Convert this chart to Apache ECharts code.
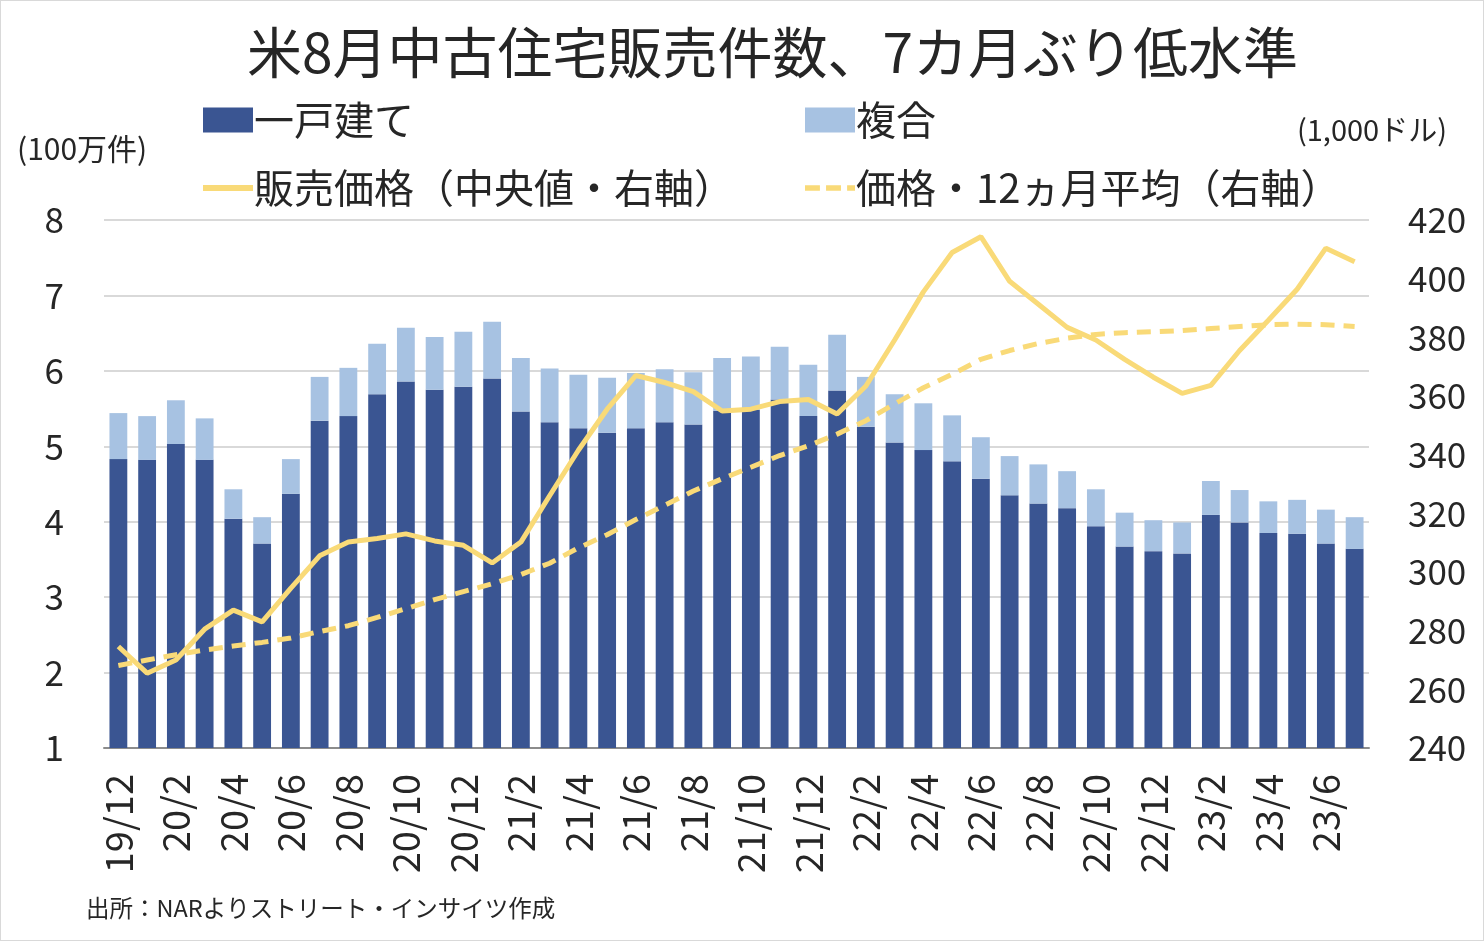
<!DOCTYPE html>
<html><head><meta charset="utf-8">
<script src="https://cdn.jsdelivr.net/npm/echarts@6/dist/echarts.min.js"></script>
<style>
html,body{margin:0;padding:0;background:#fff;}
#c{width:1482px;height:939px;border:1px solid #d9d9d9;}
</style></head>
<body><div id="c"></div>
<script>
const categories = ['19/12','20/1','20/2','20/3','20/4','20/5','20/6','20/7','20/8','20/9','20/10','20/11','20/12',
 '21/1','21/2','21/3','21/4','21/5','21/6','21/7','21/8','21/9','21/10','21/11','21/12',
 '22/1','22/2','22/3','22/4','22/5','22/6','22/7','22/8','22/9','22/10','22/11','22/12',
 '23/1','23/2','23/3','23/4','23/5','23/6','23/7'];
// single-family (million units, SAAR)
const singleFamily = [4.83,4.82,5.03,4.82,4.04,3.71,4.37,5.34,5.40,5.69,5.86,5.75,5.79,
 5.90,5.46,5.32,5.24,5.18,5.24,5.32,5.29,5.47,5.48,5.62,5.40,
 5.74,5.26,5.05,4.95,4.80,4.57,4.35,4.24,4.18,3.94,3.67,3.61,
 3.58,4.09,3.99,3.85,3.84,3.71,3.64];
// total (single-family + condo/co-op)
const totalSales = [5.44,5.40,5.61,5.37,4.43,4.06,4.83,5.92,6.04,6.36,6.57,6.45,6.52,
 6.65,6.17,6.03,5.95,5.91,5.97,6.02,5.98,6.17,6.19,6.32,6.08,
 6.48,5.92,5.69,5.57,5.41,5.12,4.87,4.76,4.67,4.43,4.12,4.02,
 3.99,4.54,4.42,4.27,4.29,4.16,4.06];
const multiFamily = totalSales.map((t,i)=>+(t-singleFamily[i]).toFixed(2));
// median price (thousand USD)
const medianPrice = [274.6,265.5,270.0,280.5,287.0,283.0,294.5,305.5,310.2,311.4,313.0,310.6,309.1,
 303.1,310.2,326.0,341.5,355.5,367.0,364.6,361.5,354.9,355.5,358.1,358.8,
 353.9,363.4,379.1,395.5,408.9,414.3,399.1,391.3,383.4,379.1,372.5,366.4,
 360.9,363.6,375.5,385.8,396.4,410.4,405.8];
// 12-month average price
const avgPrice = [268.1,270.0,271.8,273.4,274.8,276.0,277.5,279.7,281.7,284.5,287.5,290.6,293.3,
 296.0,299.1,303.0,308.2,312.7,317.9,322.7,327.6,331.8,335.7,339.7,343.0,
 347.0,351.6,357.3,362.8,367.4,372.5,375.5,377.9,379.7,381.0,381.6,381.9,
 382.3,383.0,383.7,384.3,384.5,384.3,383.7];
const leftTicks = {min:1,max:8,interval:1};
const rightTicks = {min:240,max:420,interval:20};

const FONT = '"Noto Sans CJK JP", "Noto Sans", sans-serif';
const TXT = '#262626';
const DARK = '#3A5592', LIGHT = '#A7C2E2', GOLD = '#F9DA78';

const chart = echarts.init(document.getElementById('c'));
const legendBase = {itemWidth:50,itemHeight:25,itemGap:0,
  textStyle:{fontFamily:FONT,fontSize:40,color:TXT,padding:[0,0,0,-4]},selectedMode:false};
const SOLID_ICON = 'path://M0,0H50V6H0Z';
const DASH_ICON = 'path://M0,0H17V6H0Z M24,0H41V6H24Z M48,0H57V6H48Z';
chart.setOption({
  animation:false,
  textStyle:{fontFamily:FONT},
  title:{text:'米8月中古住宅販売件数、7カ月ぶり低水準',left:241,top:19,
    textStyle:{fontFamily:FONT,fontSize:55,fontWeight:'normal',color:TXT}},
  legend:[
    Object.assign({},legendBase,{data:[{name:'一戸建て',icon:'rect'}],left:197,top:94}),
    Object.assign({},legendBase,{data:[{name:'複合',icon:'rect'}],left:799,top:94}),
    Object.assign({},legendBase,{itemHeight:6,data:[{name:'販売価格（中央値・右軸）',icon:SOLID_ICON}],left:197,top:162}),
    Object.assign({},legendBase,{itemHeight:6,data:[{name:'価格・12ヵ月平均（右軸）',icon:DASH_ICON}],left:799,top:162})
  ],
  grid:{left:103,right:114,top:219,bottom:192,containLabel:false},
  xAxis:{type:'category',data:categories,
    axisLine:{lineStyle:{color:'#8C8C8C',width:2}},
    axisTick:{interval:1,length:13,lineStyle:{color:'#8C8C8C',width:2}},
    axisLabel:{interval:1,rotate:90,fontSize:38,color:TXT,fontFamily:FONT,margin:26}},
  yAxis:[
    {type:'value',min:leftTicks.min,max:leftTicks.max,interval:leftTicks.interval,
     axisLine:{show:false},axisTick:{show:false},
     axisLabel:{fontSize:35,color:TXT,fontFamily:FONT,margin:40},
     splitLine:{lineStyle:{color:'#D9D9D9',width:2}}},
    {type:'value',min:rightTicks.min,max:rightTicks.max,interval:rightTicks.interval,
     axisLine:{show:false},axisTick:{show:false},
     axisLabel:{fontSize:35,color:TXT,fontFamily:FONT,margin:39},
     splitLine:{show:false}}
  ],
  graphic:[
    {type:'text',left:16,top:133,style:{text:'(100万件)',fontFamily:FONT,fontSize:30,fill:TXT}},
    {type:'text',right:36,top:114,style:{text:'(1,000ドル)',fontFamily:FONT,fontSize:29,fill:TXT}},
    {type:'text',left:85,top:895,style:{text:'出所：NARよりストリート・インサイツ作成',fontFamily:FONT,fontSize:23.5,fill:TXT}}
  ],
  series:[
    {name:'一戸建て',type:'bar',stack:'s',data:singleFamily,itemStyle:{color:DARK},barCategoryGap:'38%'},
    {name:'複合',type:'bar',stack:'s',data:multiFamily,itemStyle:{color:LIGHT},barCategoryGap:'38%'},
    {name:'販売価格（中央値・右軸）',type:'line',yAxisIndex:1,data:medianPrice,symbol:'none',
     lineStyle:{color:GOLD,width:5},itemStyle:{color:GOLD}},
    {name:'価格・12ヵ月平均（右軸）',type:'line',yAxisIndex:1,data:avgPrice,symbol:'none',
     lineStyle:{color:GOLD,width:5,type:[14,9]},itemStyle:{color:GOLD}}
  ]
});
</script></body></html>
